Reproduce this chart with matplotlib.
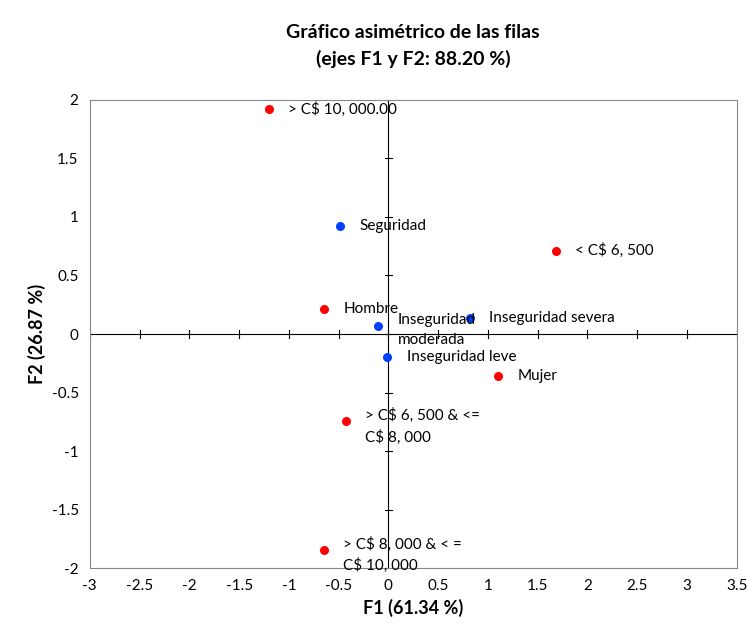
import matplotlib
matplotlib.use("Agg")
import matplotlib.pyplot as plt
import numpy as np

plt.rcParams['font.family'] = ['Lato', 'DejaVu Sans']

red_x = [-1.2, 1.68, -0.65, 1.1, -0.43, -0.65]
red_y = [1.92, 0.71, 0.21, -0.36, -0.74, -1.84]
red_labels = ['> C$ 10, 000.00', '< C$ 6, 500', 'Hombre', 'Mujer',
              '> C$ 6, 500 & <=\nC$ 8, 000', '> C$ 8, 000 & < =\nC$ 10, 000']
blue_x = [-0.49, -0.1, 0.82, -0.01]
blue_y = [0.92, 0.07, 0.14, -0.2]
blue_labels = ['Seguridad', 'Inseguridad\nmoderada', 'Inseguridad severa', 'Inseguridad leve']

xticks = np.arange(-3, 3.51, 0.5)
yticks = np.arange(-2, 2.01, 0.5)

fig = plt.figure(figsize=(7.48, 6.35), dpi=100)
ax = fig.add_axes([0.12, 0.105, 0.865, 0.738])
ax.set_xlim(-3, 3.5)
ax.set_ylim(-2, 2)

ax.axhline(0, color='black', lw=0.8)
ax.axvline(0, color='black', lw=0.8)
# tick marks on the centre axes
for t in xticks:
    ax.plot([t, t], [-0.03, 0.03], color='black', lw=0.8)
for t in yticks:
    ax.plot([-0.035, 0.035], [t, t], color='black', lw=0.8)

ax.scatter(red_x, red_y, color='#ff0000', s=30, zorder=3)
ax.scatter(blue_x, blue_y, color='#0040ff', s=30, zorder=3)

for x, y, lab in zip(red_x + blue_x, red_y + blue_y, red_labels + blue_labels):
    multi = '\n' in lab
    ax.annotate(lab, (x, y), xytext=(14, 9 if multi else 0), textcoords='offset points',
                va='top' if multi else 'center', fontsize=11, linespacing=1.5)

ax.set_xticks(xticks)
ax.set_yticks(yticks)
ax.set_xticklabels(['%g' % t for t in xticks])
ax.set_yticklabels(['%g' % t for t in yticks])
ax.tick_params(length=0, labelsize=11, pad=8)
for s in ax.spines.values():
    s.set_color('#888888')
    s.set_linewidth(0.8)

ax.set_xlabel('F1 (61.34 %)', fontsize=13, fontweight='bold')
ax.set_ylabel('F2 (26.87 %)', fontsize=13, fontweight='bold')
ax.set_title('Gráfico asimétrico de las filas\n(ejes F1 y F2: 88.20 %)',
             fontsize=14, fontweight='bold', pad=25, linespacing=1.6)

fig.savefig('out.png', dpi=100)
